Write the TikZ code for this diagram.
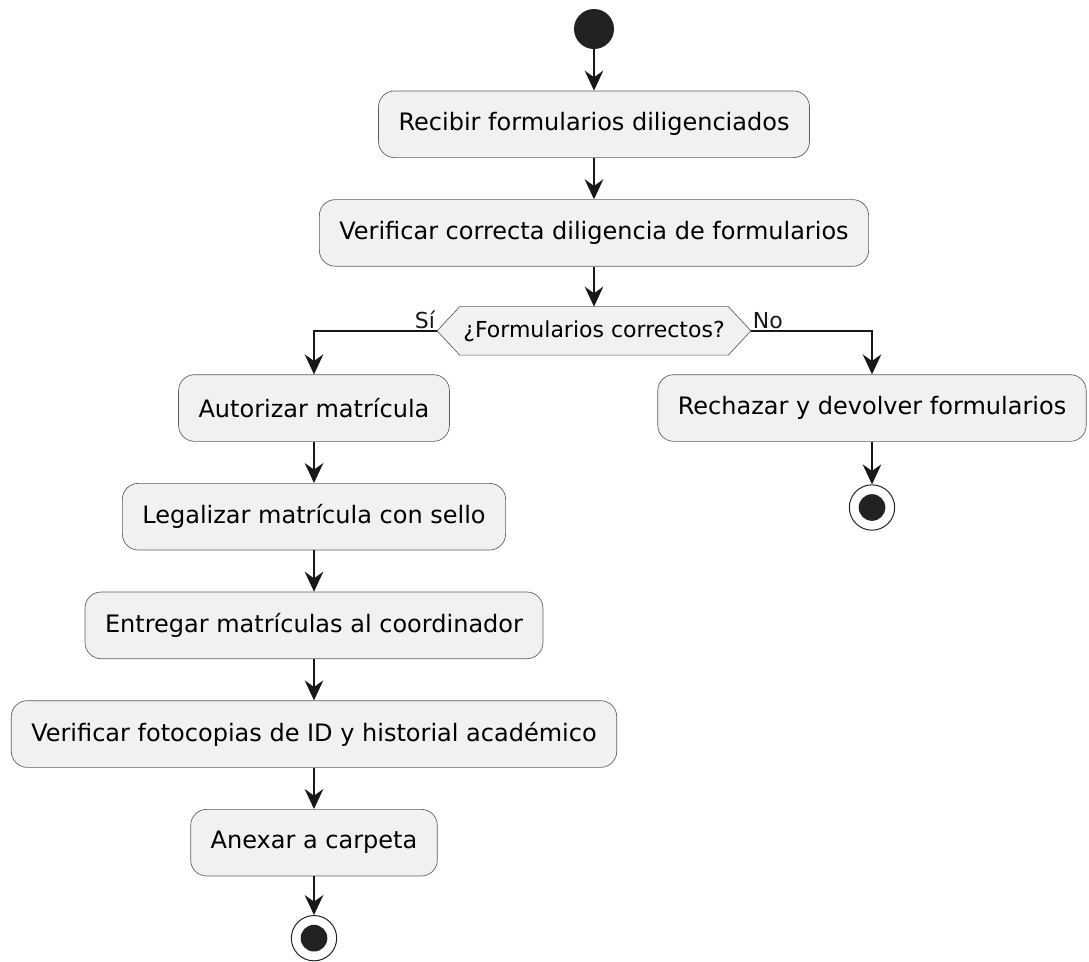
\documentclass[tikz,border=0pt]{standalone}
\usepackage{fontspec}
\setmainfont{DejaVu Sans}
\usepackage{tikz}
\usetikzlibrary{arrows.meta,positioning,backgrounds}
\definecolor{UFill}{HTML}{F1F1F1}
\definecolor{ULine}{HTML}{181818}
\definecolor{UDot}{HTML}{222222}

\begin{document}
\begin{tikzpicture}[
  x=0.75pt,y=-0.75pt,
  node distance=31pt,
  act/.style={draw=ULine!70,line width=0.5pt,rounded corners=12pt,fill=UFill,
    minimum height=50pt,inner xsep=15pt,font=\fontsize{18}{21}\selectfont},
  dec/.style={minimum width=201pt,minimum height=36pt,inner sep=0pt,
    font=\fontsize{16.5}{19}\selectfont},
  ini/.style={circle,fill=UDot,minimum size=30pt,inner sep=0pt},
  fin/.style={circle,draw=UDot,line width=0.75pt,fill=white,minimum size=34pt,
    inner sep=0pt,path picture={\fill[UDot] (path picture bounding box.center) circle (10pt);}},
  a/.style={-{Stealth[length=15pt,width=14pt,inset=5pt]},line width=1pt,color=ULine},
  lbl/.style={font=\fontsize{16.5}{19}\selectfont,inner sep=1pt}
]
  \useasboundingbox (0,0) rectangle (1089,961);
  \node[ini] (start) at (594,29) {};
  \node[act,below=of start] (recv) {Recibir formularios diligenciados};
  \node[act,below=of recv] (check) {Verificar correcta diligencia de formularios};
  \node[dec,below=30pt of check] (ask) {¿Formularios correctos?};
  \coordinate (askL) at ([xshift=-17pt]ask.west);
  \coordinate (askR) at ([xshift=17pt]ask.east);
  \begin{scope}[on background layer]
    \draw[draw=ULine!70,line width=0.5pt,fill=UFill] (askL) -- (ask.north west)
      -- (ask.north east) -- (askR) -- (ask.south east) -- (ask.south west) -- cycle;
  \end{scope}
  % branch Si
  \node[act] (auth) at (314,408) {Autorizar matrícula};
  \node[act,below=of auth] (legal) {Legalizar matrícula con sello};
  \node[act,below=of legal] (deliver) {Entregar matrículas al coordinador};
  \node[act,below=of deliver] (photo) {Verificar fotocopias de ID y historial académico};
  \node[act,below=of photo] (annex) {Anexar a carpeta};
  \node[fin,below=29pt of annex] (end1) {};
  % branch No
  \node[act] (reject) at (872,408) {Rechazar y devolver formularios};
  \node[fin,below=32pt of reject] (end2) {};
  \foreach \x/\y in {start/recv,recv/check,check/ask,auth/legal,legal/deliver,
    deliver/photo,photo/annex,annex/end1,reject/end2}
    {\draw[a] (\x) -- (\y);}
  \draw[a] (askL) -| (auth) node[lbl,pos=0,anchor=south east] {Sí};
  \draw[a] (askR) -| (reject) node[lbl,pos=0,anchor=south west] {No};
\end{tikzpicture}
\end{document}
